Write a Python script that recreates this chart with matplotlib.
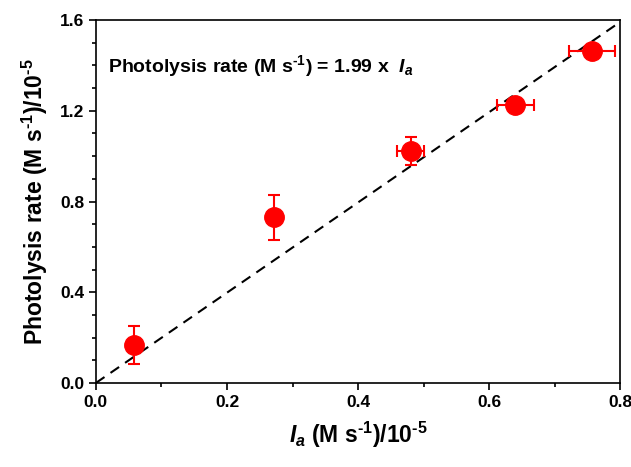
import numpy as np
import matplotlib
matplotlib.use('Agg')
from matplotlib import pyplot as plt
from matplotlib.ticker import MultipleLocator

# data
Ia = [0.058, 0.272, 0.480, 0.640, 0.757]
rate = [0.167, 0.730, 1.022, 1.225, 1.463]
Ia_err = [0.0, 0.0, 0.021, 0.028, 0.035]
rate_err = [0.085, 0.100, 0.062, 0.0, 0.0]
slope = 1.99

plt.rcParams['font.family'] = 'Liberation Sans'
plt.rcParams['font.weight'] = 'bold'
plt.rcParams['mathtext.fontset'] = 'custom'
plt.rcParams['mathtext.rm'] = 'Liberation Sans:bold'
plt.rcParams['mathtext.it'] = 'Liberation Sans:bold:italic'
plt.rcParams['mathtext.bf'] = 'Liberation Sans:bold'

fig = plt.figure(figsize=(6.31, 4.67), dpi=100)
ax = fig.add_axes([0.152, 0.18, 0.831, 0.777])

xl = np.array([0, 0.8])
ax.plot(xl, slope*xl, ls=(0, (5, 3.5)), color='k', lw=1.5, zorder=1)

ax.errorbar(Ia, rate, xerr=Ia_err, yerr=rate_err, fmt='o', color='red',
            ms=14, elinewidth=1.5, capsize=4, capthick=1.5, zorder=3)

ax.set_xlim(0, 0.8)
ax.set_ylim(0, 1.6)
ax.xaxis.set_major_locator(MultipleLocator(0.2))
ax.xaxis.set_minor_locator(MultipleLocator(0.1))
ax.yaxis.set_major_locator(MultipleLocator(0.4))
ax.yaxis.set_minor_locator(MultipleLocator(0.1))
ax.xaxis.set_major_formatter(plt.FormatStrFormatter('%.1f'))
ax.yaxis.set_major_formatter(plt.FormatStrFormatter('%.1f'))
ax.tick_params(which='major', direction='out', length=5, width=1.2, labelsize=12.5)
ax.tick_params(which='minor', direction='out', length=3, width=1.2)
for s in ax.spines.values():
    s.set_linewidth(1.2)

ax.set_xlabel(r'$I_a$ (M s$^{\text{-1}}$)/10$^{\text{-5}}$', fontsize=16.5, fontweight='bold', labelpad=7)
ax.set_ylabel(r'Photolysis rate (M s$^{\text{-1}}$)/10$^{\text{-5}}$', fontsize=16.5, fontweight='bold', labelpad=7)

ax.text(0.018, 1.397, r'Photolysis rate (M s$^{\text{-1}}$) = 1.99 $\mathregular{x}$  $I_a$',
        fontsize=14, fontweight='bold', va='center', ha='left')

fig.savefig('out.png', dpi=100)
plt.close(fig)
